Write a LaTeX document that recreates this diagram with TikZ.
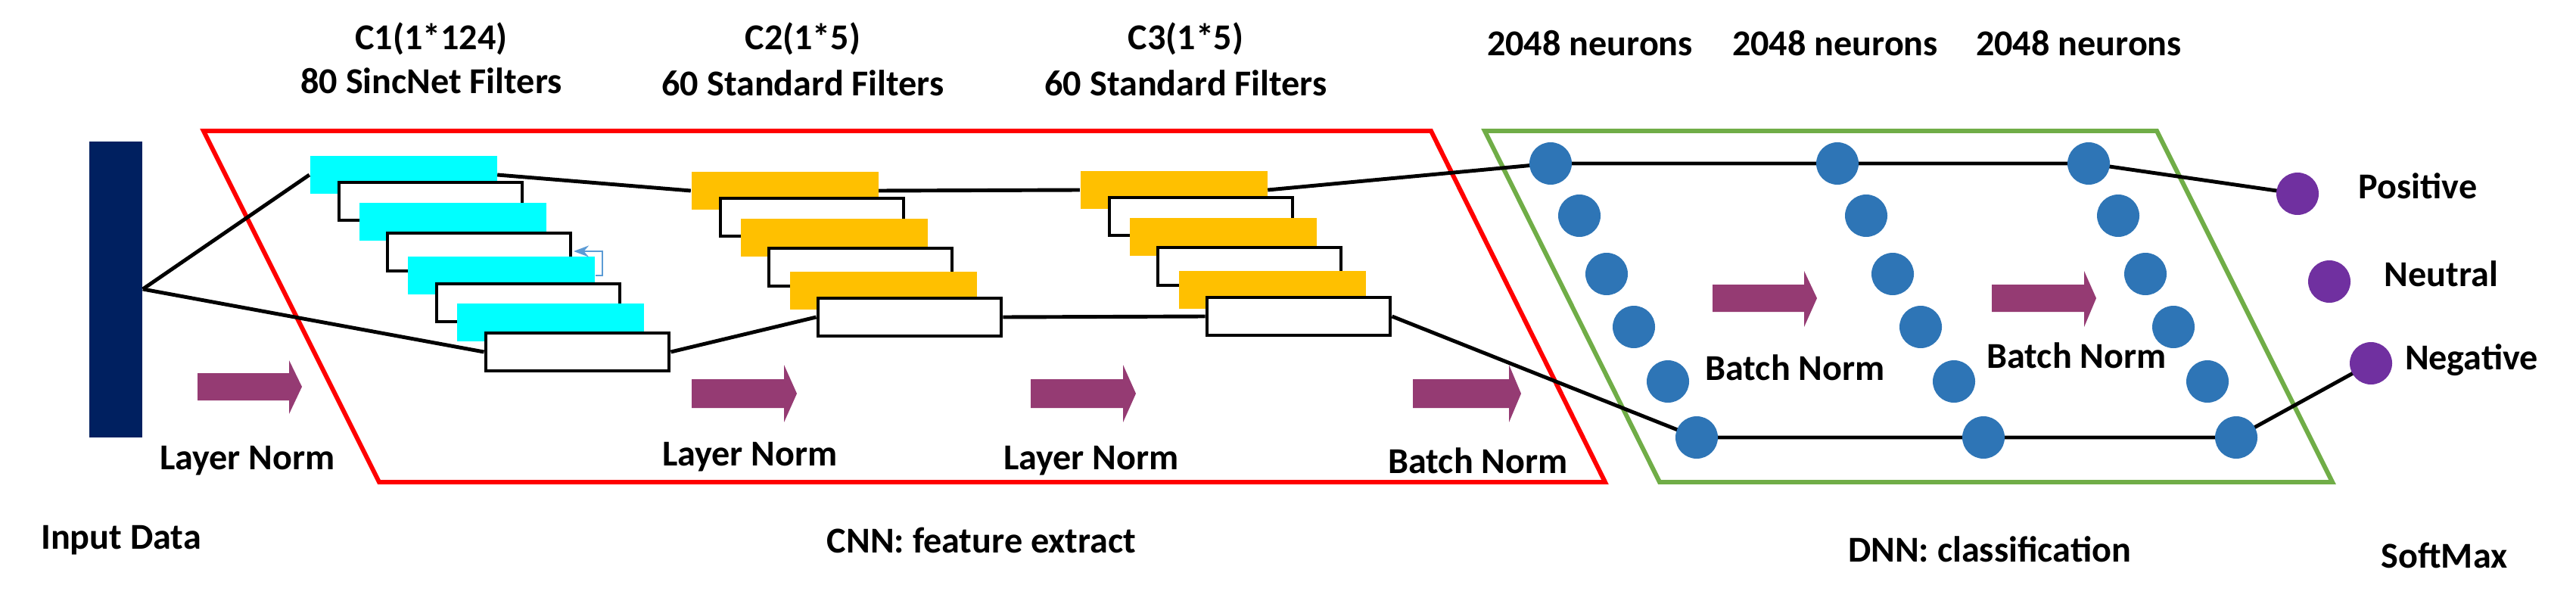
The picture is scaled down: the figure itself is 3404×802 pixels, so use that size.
\documentclass[tikz,border=0pt]{standalone}
\usepackage{fontspec}
\setmainfont{Carlito}
\usetikzlibrary{arrows.meta}
\definecolor{cyanf}{HTML}{00FFFF}
\definecolor{orf}{HTML}{FFC000}
\definecolor{neu}{HTML}{2E75B6}
\definecolor{pur}{HTML}{7030A0}
\definecolor{arr}{HTML}{953B73}
\definecolor{bar}{HTML}{002060}
\definecolor{grn}{HTML}{70AD47}
\definecolor{hook}{HTML}{5B9BD5}
\begin{document}
\begin{tikzpicture}[x=0.1mm,y=-0.1mm,
 txt/.style={font=\fontsize{13.7}{16}\selectfont\bfseries,inner sep=0pt},
 cy/.style={fill=cyanf,minimum width=24.7mm,minimum height=5mm,inner sep=0pt},
 og/.style={fill=orf,minimum width=24.7mm,minimum height=5mm,inner sep=0pt},
 wb/.style={fill=white,draw=black,line width=1.4pt,minimum width=24.2mm,minimum height=5.0mm,inner sep=0pt},
 nn/.style={circle,fill=neu,minimum size=5.6mm,inner sep=0pt},
 pn/.style={circle,fill=pur,minimum size=5.6mm,inner sep=0pt},
 conn/.style={line width=1.4pt},
 fat/.style={fill=arr}]
\useasboundingbox (0,0) rectangle (3404,802);
% frames
\draw[red,line width=1.7pt] (269,173)--(1891,173)--(2121,637)--(501,637)--cycle;
\draw[grn,line width=1.7pt] (1962,173)--(2850,173)--(3082,637)--(2193,637)--cycle;
% input bar
\node[fill=bar,minimum width=7mm,minimum height=39.1mm,inner sep=0pt] (in) at (153,382) {};
% C1 filters
\node[cy] (c1) at (533,231) {}; \node[wb] (a1) at (569,266) {};
\node[cy] (c2) at (598,293) {}; \node[wb] (a2) at (633,333) {};
\node[cy] (c3) at (662,364) {}; \node[wb] (a3) at (698,400) {};
\node[cy] (c4) at (727,426) {}; \node[wb] (a4) at (763,465) {};
\draw[hook,line width=0.8pt,-{Stealth[length=2mm]}] (787,364)--(796,364)--(796,332)--(758,332);
% C2
\node[og] (o1) at (1037,252) {}; \node[wb] (b1) at (1073,287) {};
\node[og] (o2) at (1102,314) {}; \node[wb] (b2) at (1137,353) {};
\node[og] (o3) at (1167,384) {}; \node[wb] (b3) at (1202,419) {};
% C3
\node[og] (q1) at (1551,251) {}; \node[wb] (d1) at (1587,286) {};
\node[og] (q2) at (1616,313) {}; \node[wb] (d2) at (1651,352) {};
\node[og] (q3) at (1681,383) {}; \node[wb] (d3) at (1716,418) {};
% connectors (below neurons)
\draw[conn] (in.east)--(c1.west);
\draw[conn] (in.east)--(a4.west);
\draw[conn] (c1.east)--(o1.west);
\draw[conn] (o1.east)--(q1.west);
\draw[conn] (a4.east)--(b3.west);
\draw[conn] (b3.east)--(d3.west);
% neurons
\foreach \n/\x/\y in {11/2049/216,12/2087/285,13/2123/362,14/2159/432,15/2204/504,16/2242/578,
 21/2428/216,22/2466/285,23/2501/362,24/2538/432,25/2582/504,26/2621/578,
 31/2760/216,32/2799/285,33/2835/362,34/2872/432,35/2917/504,36/2955/578}
 \coordinate (k\n) at (\x,\y);
\draw[conn] (q1.east)--(k11);
\draw[conn] (d3.east)--(k16);
\draw[conn] (k11)--(k21)--(k31)--(3036,256);
\draw[conn] (k16)--(k26)--(k36)--(3133,480);
\foreach \n in {11,12,13,14,15,16,21,22,23,24,25,26,31,32,33,34,35,36}
 \node[nn] (n\n) at (k\n) {};
\node[pn] (pos) at (3036,256) {};
\node[pn] (neu) at (3078,372) {};
\node[pn] (neg) at (3133,480) {};
% fat arrows
\foreach \a/\b/\t/\yt/\yb/\ht/\hb in {261/382/399/493/529/476/547,914/1036/1053/501/539/482/558,
 1362/1484/1501/501/539/482/558,1867/1994/2010/501/539/482/558,
 2263/2384/2401/376/412/358/432,2632/2754/2770/376/412/358/432}
 \fill[arr] (\a,\yt)--(\b,\yt)--(\b,\ht)--(\t,{(\yt+\yb)/2})--(\b,\hb)--(\b,\yb)--(\a,\yb)--cycle;
% texts
\node[txt] at (570,51) {C1(1*124)};
\node[txt] at (570,107) {80 SincNet Filters};
\node[txt] at (1061,51) {C2(1*5)};
\node[txt] at (1061,110) {60 Standard Filters};
\node[txt] at (1567,51) {C3(1*5)};
\node[txt] at (1567,110) {60 Standard Filters};
\node[txt] at (2101,57) {2048 neurons};
\node[txt] at (2425,57) {2048 neurons};
\node[txt] at (2747,57) {2048 neurons};
\node[txt] at (327,609) {Layer Norm};
\node[txt] at (991,604) {Layer Norm};
\node[txt] at (1442,609) {Layer Norm};
\node[txt] at (1953,609) {Batch Norm};
\node[txt] at (2372,486) {Batch Norm};
\node[txt] at (2744,470) {Batch Norm};
\node[txt] at (3195,246) {Positive};
\node[txt] at (3226,362) {Neutral};
\node[txt] at (3266,476) {Negative};
\node[txt] at (160,714) {Input Data};
\node[txt] at (1297,714) {CNN: feature extract};
\node[txt] at (2629,726) {DNN: classification};
\node[txt] at (3230,734) {SoftMax};
\end{tikzpicture}
\end{document}
